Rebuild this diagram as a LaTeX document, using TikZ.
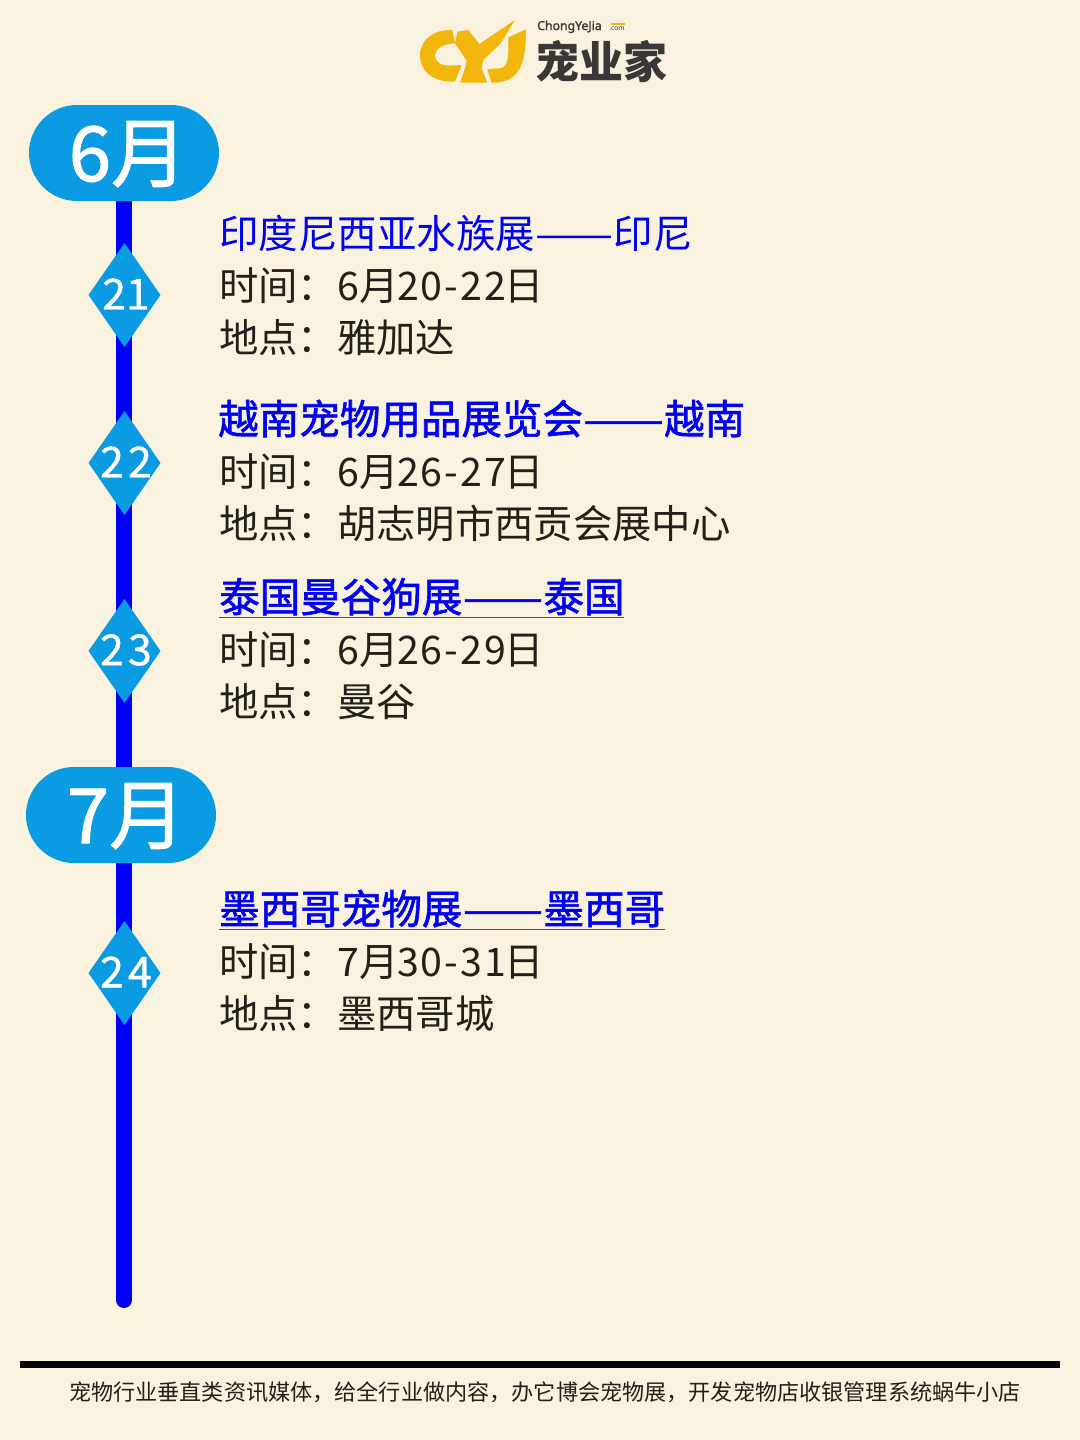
\documentclass[tikz,border=0pt]{standalone}
\usepackage{graphicx}
\usepackage{fontspec}
\setmainfont{Noto Sans CJK SC}
\newfontfamily\latinfont[FakeBold=1.5]{Noto Sans}
\newfontfamily\comfont{Noto Sans}
\newfontfamily\digitfont[LetterSpace=5]{Noto Sans CJK SC}
\newfontfamily\wideday[LetterSpace=10,FakeBold=1]{Noto Sans CJK SC}
\newfontfamily\tightday[FakeBold=1]{Noto Sans CJK SC}
\newfontfamily\titlebold[FakeBold=1.5]{Noto Sans CJK SC}
\newfontfamily\monthfont[FakeBold=1.5]{Noto Sans CJK SC}
\definecolor{bgc}{HTML}{F8F2DF}
\definecolor{skyc}{HTML}{0A9BE2}
\definecolor{linec}{HTML}{0000F5}
\definecolor{inkc}{HTML}{222018}
\definecolor{goldc}{HTML}{F2B60C}
\definecolor{darkc}{HTML}{3A3836}
\newcommand{\dg}[1]{{\digitfont #1}}
\newcommand{\clon}{：}
\newcommand{\dsh}{\makebox[2em]{\scalebox{1.18}[1]{——}}}
\begin{document}
\begin{tikzpicture}[x=0.75pt,y=-0.75pt,
  pill/.style={fill=skyc,rounded corners=36pt,minimum width=142.5pt,minimum height=72pt,inner sep=0pt},
  monthtext/.style={anchor=base,inner sep=0pt,text=white,font=\monthfont\fontsize{57pt}{57pt}\selectfont},
  titletext/.style={anchor=base west,inner sep=0pt,text=linec,font=\fontsize{29.6pt}{30pt}\selectfont},
  boldtitle/.style={anchor=base west,inner sep=0pt,text=linec,font=\titlebold\fontsize{30.4pt}{30pt}\selectfont},
  bodytext/.style={anchor=base west,inner sep=0pt,text=inkc,font=\fontsize{29.5pt}{30pt}\selectfont},
  daynum/.style={anchor=center,inner sep=0pt,text=white,font=\fontsize{32pt}{32pt}\selectfont},
  uline/.style={draw=linec!75!bgc,line width=0.8pt},
  spine/.style={draw=linec,line width=12pt,line cap=round},
]
\useasboundingbox (0,0) rectangle (1080,1440);
\fill[bgc] (0,0) rectangle (1080,1440);

% spine
\coordinate (spinetop) at (124,190);
\coordinate (spineend) at (124,1300);
\draw[spine] (spinetop) -- (spineend);

% months
\node[pill] (june) at (124,153) {};
\node[pill] (july) at (121,815) {};
\node[monthtext] (junet) at (128,181) {6月};
\node[monthtext] (julyt) at (126,843) {7月};

% diamonds
\foreach \nm/\yy/\lab/\fnt in {da/295/21/\tightday,db/463/22/\wideday,dc/651/23/\wideday,dd/973/24/\wideday}{
  \fill[skyc] (124.5,\yy-52) -- (160.5,\yy) -- (124.5,\yy+52) -- (88.5,\yy) -- cycle;
  \node[daynum] (\nm) at (126,\yy-1) {\fnt \lab};
}

% event 1
\node[titletext] (t1) at (219,248) {印度尼西亚水族展\dsh 印尼};
\node[bodytext] (a1) at (219,300) {时间\clon\dg{6}月\hspace{-1pt}\dg{20-22}\hspace{-1pt}日};
\node[bodytext] (b1) at (219,352) {地点\clon 雅加达};
% event 2
\node[boldtitle] (t2) at (218,434) {越南宠物用品展览会\dsh 越南};
\node[bodytext] (a2) at (219,486) {时间\clon\dg{6}月\hspace{-1pt}\dg{26-27}\hspace{-1pt}日};
\node[bodytext] (b2) at (219,538) {地点\clon 胡志明市西贡会展中心};
% event 3
\node[boldtitle] (t3) at (219,612) {泰国曼谷狗展\dsh 泰国};
\draw[uline] (219,617.5) -- (624,617.5);
\node[bodytext] (a3) at (219,664) {时间\clon\dg{6}月\hspace{-1pt}\dg{26-29}\hspace{-1pt}日};
\node[bodytext] (b3) at (219,716) {地点\clon 曼谷};
% event 4
\node[boldtitle] (t4) at (219,924) {墨西哥宠物展\dsh 墨西哥};
\draw[uline] (219,929.5) -- (665,929.5);
\node[bodytext] (a4) at (219,976) {时间\clon\dg{7}月\hspace{-1pt}\dg{30-31}\hspace{-1pt}日};
\node[bodytext] (b4) at (219,1028) {地点\clon 墨西哥城};

% footer
\fill[black] (20,1361) rectangle (1060,1368);
\node[anchor=base,inner sep=0pt,text=inkc,font=\fontsize{16.6pt}{16.6pt}\selectfont] (foot) at (545,1400) {宠物行业垂直类资讯媒体，给全行业做内容，办它博会宠物展，开发宠物店收银管理系统蜗牛小店};

% logo
\begin{scope}[shift={(400,0)},x=0.25pt,y=-0.25pt]
\fill[goldc] (157,90) .. controls (100,88) and (60,120) .. (60,167) .. controls (60,215) and (100,247) .. (165,245) -- (185,195) -- (150,197) .. controls (125,197) and (105,187) .. (105,167) .. controls (105,147) and (125,133) .. (165,130) -- cycle;
\fill[goldc] (172,95) -- (205,90) -- (238,132) -- (345,60) -- (302,130) -- (250,180) -- (245,205) -- (262,248) -- (180,248) -- (195,205) -- (200,182) -- (165,130) -- cycle;
\fill[goldc] (378,88) .. controls (378,180) and (365,250) .. (275,248) -- (262,208) -- (285,205) .. controls (315,210) and (325,190) .. (325,150) -- (325,112) -- cycle;
\end{scope}
\node[anchor=base west,inner sep=0pt,text=darkc,font=\latinfont\fontsize{9.2pt}{9.2pt}\selectfont] (brand) at (537,30) {ChongYeJia};
\node[anchor=base west,inner sep=0pt,text=darkc,font=\comfont\fontsize{5pt}{5pt}\selectfont] (dotcom) at (609,30) {.com};
\fill[goldc] (611,23) rectangle (625,24.5);
\node[anchor=base west,inner sep=0pt,text=darkc,font=\bfseries\fontsize{33pt}{33pt}\selectfont] (cn) at (535,78) {宠业家};
\end{tikzpicture}
\end{document}
